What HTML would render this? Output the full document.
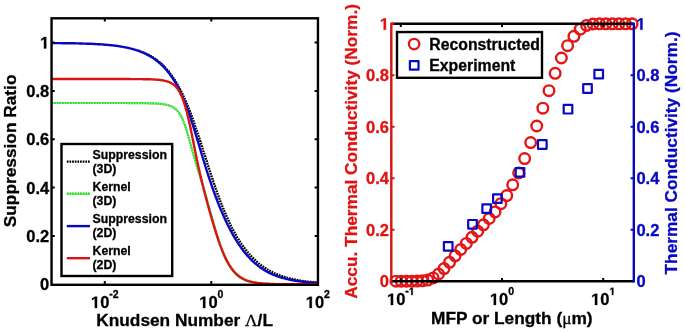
<!DOCTYPE html>
<html><head><meta charset="utf-8"><title>Suppression ratio and thermal conductivity plots</title><style>
html,body{margin:0;padding:0;background:#fff;width:685px;height:332px;overflow:hidden;}
svg{display:block;}
svg{will-change:transform;}
text{font-family:"Liberation Sans",sans-serif;font-weight:bold;fill:currentColor;stroke:currentColor;stroke-width:0.3px;}
.r{color:#e01313;}
.b{color:#0808c2;}
.g1{stroke:currentColor;stroke-width:0.3px;}
.tk{font-size:16.5px;}
.sup{font-size:10.5px;}
.lab{font-size:17.3px;}
.lg{font-size:12.3px;}
.lg2{font-size:15.8px;}
.sym{font-family:"Liberation Serif",serif;font-weight:normal;}
</style></head><body>
<svg width="685" height="332" viewBox="0 0 685 332">
<rect width="685" height="332" fill="#fff"/>
<defs><clipPath id="cl"><rect x="51.55" y="18.3" width="266.25" height="266.00"/></clipPath></defs>
<g clip-path="url(#cl)" fill="none">
<defs><clipPath id="cl2"><rect x="138" y="0" width="200" height="300"/></clipPath></defs>
<path clip-path="url(#cl2)" d="M48.5,43.0 L49.3,43.1 L50.1,43.1 L50.9,43.1 L51.7,43.1 L52.5,43.1 L53.3,43.1 L54.1,43.1 L54.9,43.1 L55.7,43.1 L56.5,43.1 L57.3,43.1 L58.1,43.1 L58.9,43.1 L59.7,43.2 L60.5,43.2 L61.3,43.2 L62.1,43.2 L62.9,43.2 L63.7,43.2 L64.5,43.2 L65.3,43.2 L66.1,43.2 L66.9,43.2 L67.7,43.3 L68.5,43.3 L69.3,43.3 L70.1,43.3 L70.9,43.3 L71.7,43.3 L72.5,43.3 L73.3,43.4 L74.1,43.4 L74.9,43.4 L75.7,43.4 L76.5,43.4 L77.3,43.5 L78.1,43.5 L78.9,43.5 L79.7,43.5 L80.5,43.5 L81.3,43.6 L82.1,43.6 L82.9,43.6 L83.7,43.6 L84.5,43.7 L85.3,43.7 L86.1,43.7 L86.9,43.7 L87.7,43.8 L88.5,43.8 L89.3,43.8 L90.1,43.9 L90.9,43.9 L91.7,43.9 L92.5,44.0 L93.3,44.0 L94.1,44.1 L94.9,44.1 L95.7,44.1 L96.5,44.2 L97.3,44.2 L98.1,44.3 L98.9,44.3 L99.7,44.4 L100.5,44.4 L101.3,44.5 L102.1,44.5 L102.9,44.6 L103.7,44.6 L104.5,44.7 L105.3,44.8 L106.0,44.8 L106.8,44.9 L107.6,45.0 L108.4,45.0 L109.2,45.1 L110.0,45.2 L110.8,45.3 L111.6,45.3 L112.4,45.4 L113.2,45.5 L114.0,45.6 L114.8,45.7 L115.6,45.8 L116.4,45.9 L117.2,46.0 L118.0,46.1 L118.8,46.2 L119.6,46.3 L120.4,46.5 L121.1,46.6 L121.9,46.7 L122.7,46.8 L123.5,47.0 L124.3,47.1 L125.1,47.3 L125.9,47.4 L126.7,47.6 L127.4,47.7 L128.2,47.9 L129.0,48.1 L129.8,48.2 L130.6,48.4 L131.3,48.6 L132.1,48.8 L132.9,49.0 L133.7,49.2 L134.4,49.4 L135.2,49.6 L136.0,49.9 L136.7,50.1 L137.5,50.3 L138.3,50.6 L139.0,50.8 L139.8,51.1 L140.5,51.4 L141.3,51.7 L142.0,51.9 L142.8,52.2 L143.5,52.5 L144.2,52.9 L145.0,53.2 L145.7,53.5 L146.4,53.8 L147.2,54.2 L147.9,54.5 L148.6,54.9 L149.3,55.3 L150.0,55.7 L150.7,56.1 L151.4,56.5 L152.1,56.9 L152.8,57.3 L153.4,57.7 L154.1,58.1 L154.8,58.6 L155.4,59.0 L156.1,59.5 L156.7,60.0 L157.4,60.5 L158.0,60.9 L158.6,61.4 L159.2,61.9 L159.9,62.5 L160.5,63.0 L161.1,63.5 L161.7,64.0 L162.2,64.6 L162.8,65.1 L163.4,65.7 L164.0,66.3 L164.5,66.8 L165.1,67.4 L165.6,68.0 L166.2,68.6 L166.7,69.2 L167.2,69.8 L167.7,70.4 L168.3,71.0 L168.8,71.6 L169.3,72.3 L169.8,72.9 L170.2,73.5 L170.7,74.2 L171.2,74.8 L171.7,75.4 L172.1,76.1 L172.6,76.8 L173.0,77.4 L173.5,78.1 L173.9,78.7 L174.4,79.4 L174.8,80.1 L175.2,80.8 L175.6,81.4 L176.1,82.1 L176.5,82.8 L176.9,83.5 L177.3,84.2 L177.7,84.9 L178.1,85.6 L178.5,86.3 L178.8,87.0 L179.2,87.7 L179.6,88.4 L180.0,89.1 L180.3,89.8 L180.7,90.5 L181.1,91.2 L181.4,92.0 L181.8,92.7 L182.1,93.4 L182.5,94.1 L182.8,94.8 L183.2,95.6 L183.5,96.3 L183.8,97.0 L184.2,97.7 L184.5,98.5 L184.8,99.2 L185.2,99.9 L185.5,100.7 L185.8,101.4 L186.1,102.1 L186.4,102.9 L186.7,103.6 L187.0,104.3 L187.3,105.1 L187.7,105.8 L188.0,106.6 L188.3,107.3 L188.6,108.0 L188.8,108.8 L189.1,109.5 L189.4,110.3 L189.7,111.0 L190.0,111.8 L190.3,112.5 L190.6,113.3 L190.9,114.0 L191.1,114.8 L191.4,115.5 L191.7,116.3 L192.0,117.0 L192.3,117.8 L192.5,118.5 L192.8,119.3 L193.1,120.0 L193.3,120.8 L193.6,121.5 L193.9,122.3 L194.1,123.0 L194.4,123.8 L194.7,124.5 L194.9,125.3 L195.2,126.1 L195.5,126.8 L195.7,127.6 L196.0,128.3 L196.2,129.1 L196.5,129.8 L196.8,130.6 L197.0,131.4 L197.3,132.1 L197.5,132.9 L197.8,133.6 L198.0,134.4 L198.3,135.2 L198.5,135.9 L198.8,136.7 L199.0,137.4 L199.3,138.2 L199.5,139.0 L199.8,139.7 L200.0,140.5 L200.3,141.2 L200.5,142.0 L200.8,142.8 L201.0,143.5 L201.2,144.3 L201.5,145.0 L201.7,145.8 L202.0,146.6 L202.2,147.3 L202.5,148.1 L202.7,148.8 L203.0,149.6 L203.2,150.4 L203.4,151.1 L203.7,151.9 L203.9,152.7 L204.2,153.4 L204.4,154.2 L204.7,154.9 L204.9,155.7 L205.2,156.5 L205.4,157.2 L205.6,158.0 L205.9,158.8 L206.1,159.5 L206.4,160.3 L206.6,161.0 L206.9,161.8 L207.1,162.6 L207.3,163.3 L207.6,164.1 L207.8,164.9 L208.1,165.6 L208.3,166.4 L208.6,167.1 L208.8,167.9 L209.1,168.7 L209.3,169.4 L209.6,170.2 L209.8,170.9 L210.0,171.7 L210.3,172.5 L210.5,173.2 L210.8,174.0 L211.0,174.7 L211.3,175.5 L211.5,176.3 L211.8,177.0 L212.1,177.8 L212.3,178.5 L212.6,179.3 L212.8,180.1 L213.1,180.8 L213.3,181.6 L213.6,182.3 L213.8,183.1 L214.1,183.8 L214.4,184.6 L214.6,185.4 L214.9,186.1 L215.1,186.9 L215.4,187.6 L215.7,188.4 L215.9,189.1 L216.2,189.9 L216.5,190.6 L216.7,191.4 L217.0,192.2 L217.3,192.9 L217.5,193.7 L217.8,194.4 L218.1,195.2 L218.4,195.9 L218.6,196.7 L218.9,197.4 L219.2,198.2 L219.5,198.9 L219.8,199.7 L220.0,200.4 L220.3,201.2 L220.6,201.9 L220.9,202.7 L221.2,203.4 L221.5,204.1 L221.8,204.9 L222.1,205.6 L222.4,206.4 L222.7,207.1 L223.0,207.9 L223.3,208.6 L223.6,209.3 L223.9,210.1 L224.2,210.8 L224.5,211.6 L224.8,212.3 L225.1,213.0 L225.4,213.8 L225.7,214.5 L226.1,215.2 L226.4,216.0 L226.7,216.7 L227.0,217.4 L227.4,218.2 L227.7,218.9 L228.0,219.6 L228.3,220.3 L228.7,221.1 L229.0,221.8 L229.4,222.5 L229.7,223.2 L230.1,224.0 L230.4,224.7 L230.8,225.4 L231.1,226.1 L231.5,226.8 L231.8,227.5 L232.2,228.3 L232.6,229.0 L232.9,229.7 L233.3,230.4 L233.7,231.1 L234.1,231.8 L234.5,232.5 L234.8,233.2 L235.2,233.9 L235.6,234.6 L236.0,235.3 L236.4,236.0 L236.8,236.7 L237.2,237.4 L237.6,238.0 L238.1,238.7 L238.5,239.4 L238.9,240.1 L239.3,240.8 L239.8,241.4 L240.2,242.1 L240.6,242.8 L241.1,243.4 L241.5,244.1 L242.0,244.8 L242.4,245.4 L242.9,246.1 L243.4,246.7 L243.8,247.4 L244.3,248.0 L244.8,248.6 L245.3,249.3 L245.8,249.9 L246.3,250.5 L246.8,251.2 L247.3,251.8 L247.8,252.4 L248.3,253.0 L248.8,253.6 L249.3,254.2 L249.9,254.8 L250.4,255.4 L251.0,256.0 L251.5,256.6 L252.1,257.2 L252.6,257.7 L253.2,258.3 L253.7,258.9 L254.3,259.4 L254.9,260.0 L255.5,260.5 L256.1,261.1 L256.7,261.6 L257.3,262.1 L257.9,262.6 L258.5,263.2 L259.1,263.7 L259.7,264.2 L260.4,264.7 L261.0,265.1 L261.6,265.6 L262.3,266.1 L262.9,266.6 L263.6,267.0 L264.3,267.5 L264.9,267.9 L265.6,268.3 L266.3,268.8 L267.0,269.2 L267.6,269.6 L268.3,270.0 L269.0,270.4 L269.7,270.8 L270.4,271.2 L271.1,271.5 L271.9,271.9 L272.6,272.3 L273.3,272.6 L274.0,273.0 L274.7,273.3 L275.5,273.6 L276.2,273.9 L276.9,274.2 L277.7,274.5 L278.4,274.8 L279.2,275.1 L279.9,275.4 L280.7,275.7 L281.4,276.0 L282.2,276.2 L282.9,276.5 L283.7,276.7 L284.5,277.0 L285.2,277.2 L286.0,277.4 L286.8,277.6 L287.5,277.9 L288.3,278.1 L289.1,278.3 L289.9,278.5 L290.6,278.7 L291.4,278.8 L292.2,279.0 L293.0,279.2 L293.8,279.4 L294.5,279.5 L295.3,279.7 L296.1,279.8 L296.9,280.0 L297.7,280.1 L298.5,280.3 L299.3,280.4 L300.0,280.6 L300.8,280.7 L301.6,280.8 L302.4,280.9 L303.2,281.1 L304.0,281.2 L304.8,281.3 L305.6,281.4 L306.4,281.5 L307.2,281.6 L308.0,281.7 L308.8,281.8 L309.6,281.9 L310.3,282.0 L311.1,282.0 L311.9,282.1 L312.7,282.2 L313.5,282.3 L314.3,282.4 L315.1,282.4 L315.9,282.5 L316.7,282.6 L317.5,282.6 L318.3,282.7 L319.1,282.8 L319.9,282.8 L320.1,282.8" stroke="#000" stroke-width="2.4" stroke-dasharray="1.75 0.9"/>
<path d="M48.9,103.0 L49.7,103.0 L50.5,103.0 L51.3,103.0 L52.1,103.0 L52.9,103.0 L53.7,103.0 L54.5,103.0 L55.3,103.0 L56.1,103.0 L56.9,103.0 L57.7,103.0 L58.5,103.0 L59.3,103.0 L60.1,103.0 L60.9,103.0 L61.7,103.0 L62.5,103.0 L63.3,103.0 L64.1,103.0 L64.9,103.0 L65.7,103.0 L66.5,103.0 L67.3,103.0 L68.1,103.0 L68.9,103.0 L69.7,103.0 L70.5,103.0 L71.3,103.0 L72.1,103.0 L72.9,103.0 L73.7,103.0 L74.5,103.0 L75.3,103.0 L76.1,103.0 L76.9,103.0 L77.7,103.0 L78.5,103.0 L79.3,103.0 L80.1,103.0 L80.9,103.0 L81.7,103.0 L82.5,103.0 L83.3,103.0 L84.1,103.0 L84.9,103.0 L85.7,103.0 L86.5,103.0 L87.3,103.0 L88.1,103.0 L88.9,103.0 L89.7,103.0 L90.5,103.0 L91.3,103.0 L92.1,103.0 L92.9,103.0 L93.7,103.0 L94.5,103.0 L95.3,103.0 L96.1,103.0 L96.9,103.0 L97.7,103.0 L98.5,103.0 L99.3,103.0 L100.1,103.0 L100.9,103.0 L101.7,103.0 L102.5,103.0 L103.3,103.0 L104.1,103.0 L104.9,103.0 L105.7,103.0 L106.5,103.0 L107.3,103.0 L108.1,103.0 L108.9,103.0 L109.7,103.0 L110.5,103.0 L111.3,103.0 L112.1,103.0 L112.9,103.0 L113.7,103.0 L114.5,103.0 L115.3,103.0 L116.1,103.0 L116.9,103.0 L117.7,103.0 L118.5,103.0 L119.3,103.0 L120.1,103.0 L120.9,103.0 L121.7,103.0 L122.5,103.0 L123.3,103.0 L124.1,103.0 L124.9,103.0 L125.7,103.0 L126.5,103.0 L127.3,103.1 L128.1,103.1 L128.9,103.1 L129.7,103.1 L130.5,103.1 L131.3,103.1 L132.1,103.1 L132.9,103.1 L133.7,103.1 L134.5,103.1 L135.3,103.1 L136.1,103.1 L136.9,103.1 L137.7,103.1 L138.5,103.1 L139.3,103.1 L140.1,103.1 L140.9,103.1 L141.7,103.1 L142.5,103.2 L143.3,103.2 L144.1,103.2 L144.9,103.2 L145.7,103.2 L146.5,103.2 L147.3,103.2 L148.1,103.3 L148.9,103.3 L149.7,103.3 L150.5,103.3 L151.3,103.3 L152.1,103.4 L152.9,103.4 L153.7,103.4 L154.5,103.5 L155.3,103.5 L156.1,103.6 L156.9,103.6 L157.7,103.7 L158.5,103.7 L159.3,103.8 L160.1,103.9 L160.9,103.9 L161.7,104.0 L162.5,104.1 L163.2,104.2 L164.0,104.4 L164.8,104.5 L165.6,104.6 L166.4,104.8 L167.2,105.0 L168.0,105.2 L168.7,105.4 L169.5,105.6 L170.2,105.9 L171.0,106.2 L171.7,106.5 L172.4,106.9 L173.1,107.2 L173.8,107.7 L174.5,108.1 L175.1,108.6 L175.7,109.1 L176.3,109.6 L176.9,110.2 L177.4,110.8 L178.0,111.4 L178.5,112.0 L178.9,112.7 L179.4,113.3 L179.8,114.0 L180.2,114.7 L180.6,115.4 L181.0,116.1 L181.4,116.8 L181.8,117.5 L182.1,118.2 L182.4,118.9 L182.8,119.7 L183.1,120.4 L183.4,121.2 L183.7,121.9 L183.9,122.6 L184.2,123.4 L184.5,124.1 L184.8,124.9 L185.0,125.7 L185.3,126.4 L185.5,127.2 L185.8,127.9 L186.0,128.7 L186.3,129.5 L186.5,130.2 L186.7,131.0 L187.0,131.8 L187.2,132.5 L187.4,133.3 L187.7,134.1 L187.9,134.8 L188.1,135.6 L188.3,136.4 L188.5,137.1 L188.8,137.9 L189.0,138.7 L189.2,139.4 L189.4,140.2 L189.6,141.0 L189.8,141.8 L190.1,142.5 L190.3,143.3 L190.5,144.1 L190.7,144.8 L190.9,145.6 L191.1,146.4 L191.3,147.1 L191.5,147.9 L191.8,148.7 L192.0,149.5 L192.2,150.2 L192.4,151.0 L192.6,151.8 L192.8,152.5 L193.1,153.3 L193.3,154.1 L193.5,154.8 L193.7,155.6 L193.9,156.4 L194.2,157.2 L194.4,157.9 L194.6,158.7 L194.8,159.5 L195.1,160.2 L195.3,161.0 L195.5,161.8 L195.8,162.5 L196.0,163.3 L196.2,164.1 L196.5,164.8 L196.7,165.6 L196.9,166.4 L197.2,167.1 L197.4,167.9 L197.6,168.6 L197.9,169.4 L198.1,170.2 L198.3,170.9 L198.6,171.7 L198.8,172.5 L199.0,173.2 L199.3,174.0 L199.5,174.8 L199.8,175.5 L200.0,176.3 L200.2,177.1 L200.5,177.8 L200.7,178.6 L200.9,179.3 L201.2,180.1 L201.4,180.9 L201.6,181.6 L201.9,182.4 L202.1,183.2 L202.3,183.9 L202.6,184.7 L202.8,185.5 L203.0,186.2 L203.2,187.0 L203.5,187.8 L203.7,188.5 L203.9,189.3 L204.2,190.1 L204.4,190.8 L204.6,191.6 L204.8,192.4 L205.0,193.1 L205.3,193.9 L205.5,194.7 L205.7,195.5 L205.9,196.2 L206.2,197.0 L206.4,197.8 L206.6,198.5 L206.8,199.3 L207.0,200.1 L207.2,200.8 L207.5,201.6 L207.7,202.4 L207.9,203.1 L208.1,203.9 L208.3,204.7 L208.5,205.5 L208.8,206.2 L209.0,207.0 L209.2,207.8 L209.4,208.5 L209.6,209.3 L209.8,210.1 L210.0,210.9 L210.3,211.6 L210.5,212.4 L210.7,213.2 L210.9,213.9 L211.1,214.7 L211.3,215.5 L211.5,216.3 L211.8,217.0 L212.0,217.8 L212.2,218.6 L212.4,219.3 L212.6,220.1 L212.8,220.9 L213.0,221.6 L213.3,222.4 L213.5,223.2 L213.7,224.0 L213.9,224.7 L214.1,225.5 L214.4,226.3 L214.6,227.0 L214.8,227.8 L215.0,228.6 L215.3,229.3 L215.5,230.1 L215.7,230.9 L215.9,231.6 L216.2,232.4 L216.4,233.2 L216.6,233.9 L216.9,234.7 L217.1,235.5 L217.3,236.2 L217.6,237.0 L217.8,237.8 L218.1,238.5 L218.3,239.3 L218.6,240.0 L218.8,240.8 L219.0,241.6 L219.3,242.3 L219.6,243.1 L219.8,243.8 L220.1,244.6 L220.3,245.3 L220.6,246.1 L220.9,246.9 L221.1,247.6 L221.4,248.4 L221.7,249.1 L222.0,249.9 L222.3,250.6 L222.5,251.3 L222.8,252.1 L223.1,252.8 L223.4,253.6 L223.7,254.3 L224.1,255.1 L224.4,255.8 L224.7,256.5 L225.0,257.3 L225.4,258.0 L225.7,258.7 L226.0,259.4 L226.4,260.1 L226.7,260.9 L227.1,261.6 L227.5,262.3 L227.9,263.0 L228.2,263.7 L228.6,264.4 L229.0,265.1 L229.4,265.8 L229.9,266.4 L230.3,267.1 L230.7,267.8 L231.2,268.4 L231.7,269.1 L232.1,269.7 L232.6,270.4 L233.1,271.0 L233.6,271.6 L234.2,272.2 L234.7,272.8 L235.3,273.4 L235.8,274.0 L236.4,274.5 L237.0,275.0 L237.6,275.6 L238.2,276.1 L238.9,276.5 L239.5,277.0 L240.2,277.5 L240.8,277.9 L241.5,278.3 L242.2,278.7 L242.9,279.1 L243.6,279.4 L244.4,279.8 L245.1,280.1 L245.8,280.4 L246.6,280.7 L247.4,280.9 L248.1,281.2 L248.9,281.4 L249.6,281.6 L250.4,281.8 L251.2,282.0 L252.0,282.2 L252.8,282.3 L253.6,282.5 L254.3,282.6 L255.1,282.8 L255.9,282.9 L256.7,283.0 L257.5,283.1 L258.3,283.2 L259.1,283.3 L259.9,283.3 L260.7,283.4 L261.5,283.5 L262.3,283.5 L263.1,283.6 L263.9,283.7 L264.7,283.7 L265.5,283.8 L266.3,283.8 L267.1,283.8 L267.9,283.9 L268.7,283.9 L269.5,283.9 L270.3,284.0 L271.1,284.0 L271.9,284.0 L272.7,284.0 L273.5,284.1 L274.3,284.1 L275.1,284.1 L275.9,284.1 L276.7,284.1 L277.5,284.1 L278.3,284.2 L279.1,284.2 L279.9,284.2 L280.7,284.2 L281.5,284.2 L282.3,284.2 L283.1,284.2 L283.9,284.2 L284.7,284.2 L285.5,284.2 L286.3,284.2 L287.1,284.2 L287.9,284.2 L288.7,284.2 L289.5,284.3 L290.3,284.3 L291.1,284.3 L291.9,284.3 L292.7,284.3 L293.5,284.3 L294.3,284.3 L295.1,284.3 L295.9,284.3 L296.7,284.3 L297.5,284.3 L298.3,284.3 L299.1,284.3 L299.9,284.3 L300.7,284.3 L301.5,284.3 L302.3,284.3 L303.1,284.3 L303.9,284.3 L304.7,284.3 L305.5,284.3 L306.3,284.3 L307.1,284.3 L307.9,284.3 L308.7,284.3 L309.5,284.3 L310.3,284.3 L311.1,284.3 L311.9,284.3 L312.7,284.3 L313.5,284.3 L314.3,284.3 L315.1,284.3 L315.9,284.3 L316.7,284.3 L317.5,284.3 L318.3,284.3 L319.1,284.3 L319.9,284.3 L320.5,284.3" stroke="#90f590" stroke-width="2.2"/>
<path d="M48.9,103.0 L49.7,103.0 L50.5,103.0 L51.3,103.0 L52.1,103.0 L52.9,103.0 L53.7,103.0 L54.5,103.0 L55.3,103.0 L56.1,103.0 L56.9,103.0 L57.7,103.0 L58.5,103.0 L59.3,103.0 L60.1,103.0 L60.9,103.0 L61.7,103.0 L62.5,103.0 L63.3,103.0 L64.1,103.0 L64.9,103.0 L65.7,103.0 L66.5,103.0 L67.3,103.0 L68.1,103.0 L68.9,103.0 L69.7,103.0 L70.5,103.0 L71.3,103.0 L72.1,103.0 L72.9,103.0 L73.7,103.0 L74.5,103.0 L75.3,103.0 L76.1,103.0 L76.9,103.0 L77.7,103.0 L78.5,103.0 L79.3,103.0 L80.1,103.0 L80.9,103.0 L81.7,103.0 L82.5,103.0 L83.3,103.0 L84.1,103.0 L84.9,103.0 L85.7,103.0 L86.5,103.0 L87.3,103.0 L88.1,103.0 L88.9,103.0 L89.7,103.0 L90.5,103.0 L91.3,103.0 L92.1,103.0 L92.9,103.0 L93.7,103.0 L94.5,103.0 L95.3,103.0 L96.1,103.0 L96.9,103.0 L97.7,103.0 L98.5,103.0 L99.3,103.0 L100.1,103.0 L100.9,103.0 L101.7,103.0 L102.5,103.0 L103.3,103.0 L104.1,103.0 L104.9,103.0 L105.7,103.0 L106.5,103.0 L107.3,103.0 L108.1,103.0 L108.9,103.0 L109.7,103.0 L110.5,103.0 L111.3,103.0 L112.1,103.0 L112.9,103.0 L113.7,103.0 L114.5,103.0 L115.3,103.0 L116.1,103.0 L116.9,103.0 L117.7,103.0 L118.5,103.0 L119.3,103.0 L120.1,103.0 L120.9,103.0 L121.7,103.0 L122.5,103.0 L123.3,103.0 L124.1,103.0 L124.9,103.0 L125.7,103.0 L126.5,103.0 L127.3,103.1 L128.1,103.1 L128.9,103.1 L129.7,103.1 L130.5,103.1 L131.3,103.1 L132.1,103.1 L132.9,103.1 L133.7,103.1 L134.5,103.1 L135.3,103.1 L136.1,103.1 L136.9,103.1 L137.7,103.1 L138.5,103.1 L139.3,103.1 L140.1,103.1 L140.9,103.1 L141.7,103.1 L142.5,103.2 L143.3,103.2 L144.1,103.2 L144.9,103.2 L145.7,103.2 L146.5,103.2 L147.3,103.2 L148.1,103.3 L148.9,103.3 L149.7,103.3 L150.5,103.3 L151.3,103.3 L152.1,103.4 L152.9,103.4 L153.7,103.4 L154.5,103.5 L155.3,103.5 L156.1,103.6 L156.9,103.6 L157.7,103.7 L158.5,103.7 L159.3,103.8 L160.1,103.9 L160.9,103.9 L161.7,104.0 L162.5,104.1 L163.2,104.2 L164.0,104.4 L164.8,104.5 L165.6,104.6 L166.4,104.8 L167.2,105.0 L168.0,105.2 L168.7,105.4 L169.5,105.6 L170.2,105.9 L171.0,106.2 L171.7,106.5 L172.4,106.9 L173.1,107.2 L173.8,107.7 L174.5,108.1 L175.1,108.6 L175.7,109.1 L176.3,109.6 L176.9,110.2 L177.4,110.8 L178.0,111.4 L178.5,112.0 L178.9,112.7 L179.4,113.3 L179.8,114.0 L180.2,114.7 L180.6,115.4 L181.0,116.1 L181.4,116.8 L181.8,117.5 L182.1,118.2 L182.4,118.9 L182.8,119.7 L183.1,120.4 L183.4,121.2 L183.7,121.9 L183.9,122.6 L184.2,123.4 L184.5,124.1 L184.8,124.9 L185.0,125.7 L185.3,126.4 L185.5,127.2 L185.8,127.9 L186.0,128.7 L186.3,129.5 L186.5,130.2 L186.7,131.0 L187.0,131.8 L187.2,132.5 L187.4,133.3 L187.7,134.1 L187.9,134.8 L188.1,135.6 L188.3,136.4 L188.5,137.1 L188.8,137.9 L189.0,138.7 L189.2,139.4 L189.4,140.2 L189.6,141.0 L189.8,141.8 L190.1,142.5 L190.3,143.3 L190.5,144.1 L190.7,144.8 L190.9,145.6 L191.1,146.4 L191.3,147.1 L191.5,147.9 L191.8,148.7 L192.0,149.5 L192.2,150.2 L192.4,151.0 L192.6,151.8 L192.8,152.5 L193.1,153.3 L193.3,154.1 L193.5,154.8 L193.7,155.6 L193.9,156.4 L194.2,157.2 L194.4,157.9 L194.6,158.7 L194.8,159.5 L195.1,160.2 L195.3,161.0 L195.5,161.8 L195.8,162.5 L196.0,163.3 L196.2,164.1 L196.5,164.8 L196.7,165.6 L196.9,166.4 L197.2,167.1 L197.4,167.9 L197.6,168.6 L197.9,169.4 L198.1,170.2 L198.3,170.9 L198.6,171.7 L198.8,172.5 L199.0,173.2 L199.3,174.0 L199.5,174.8 L199.8,175.5 L200.0,176.3 L200.2,177.1 L200.5,177.8 L200.7,178.6 L200.9,179.3 L201.2,180.1 L201.4,180.9 L201.6,181.6 L201.9,182.4 L202.1,183.2 L202.3,183.9 L202.6,184.7 L202.8,185.5 L203.0,186.2 L203.2,187.0 L203.5,187.8 L203.7,188.5 L203.9,189.3 L204.2,190.1 L204.4,190.8 L204.6,191.6 L204.8,192.4 L205.0,193.1 L205.3,193.9 L205.5,194.7 L205.7,195.5 L205.9,196.2 L206.2,197.0 L206.4,197.8 L206.6,198.5 L206.8,199.3 L207.0,200.1 L207.2,200.8 L207.5,201.6 L207.7,202.4 L207.9,203.1 L208.1,203.9 L208.3,204.7 L208.5,205.5 L208.8,206.2 L209.0,207.0 L209.2,207.8 L209.4,208.5 L209.6,209.3 L209.8,210.1 L210.0,210.9 L210.3,211.6 L210.5,212.4 L210.7,213.2 L210.9,213.9 L211.1,214.7 L211.3,215.5 L211.5,216.3 L211.8,217.0 L212.0,217.8 L212.2,218.6 L212.4,219.3 L212.6,220.1 L212.8,220.9 L213.0,221.6 L213.3,222.4 L213.5,223.2 L213.7,224.0 L213.9,224.7 L214.1,225.5 L214.4,226.3 L214.6,227.0 L214.8,227.8 L215.0,228.6 L215.3,229.3 L215.5,230.1 L215.7,230.9 L215.9,231.6 L216.2,232.4 L216.4,233.2 L216.6,233.9 L216.9,234.7 L217.1,235.5 L217.3,236.2 L217.6,237.0 L217.8,237.8 L218.1,238.5 L218.3,239.3 L218.6,240.0 L218.8,240.8 L219.0,241.6 L219.3,242.3 L219.6,243.1 L219.8,243.8 L220.1,244.6 L220.3,245.3 L220.6,246.1 L220.9,246.9 L221.1,247.6 L221.4,248.4 L221.7,249.1 L222.0,249.9 L222.3,250.6 L222.5,251.3 L222.8,252.1 L223.1,252.8 L223.4,253.6 L223.7,254.3 L224.1,255.1 L224.4,255.8 L224.7,256.5 L225.0,257.3 L225.4,258.0 L225.7,258.7 L226.0,259.4 L226.4,260.1 L226.7,260.9 L227.1,261.6 L227.5,262.3 L227.9,263.0 L228.2,263.7 L228.6,264.4 L229.0,265.1 L229.4,265.8 L229.9,266.4 L230.3,267.1 L230.7,267.8 L231.2,268.4 L231.7,269.1 L232.1,269.7 L232.6,270.4 L233.1,271.0 L233.6,271.6 L234.2,272.2 L234.7,272.8 L235.3,273.4 L235.8,274.0 L236.4,274.5 L237.0,275.0 L237.6,275.6 L238.2,276.1 L238.9,276.5 L239.5,277.0 L240.2,277.5 L240.8,277.9 L241.5,278.3 L242.2,278.7 L242.9,279.1 L243.6,279.4 L244.4,279.8 L245.1,280.1 L245.8,280.4 L246.6,280.7 L247.4,280.9 L248.1,281.2 L248.9,281.4 L249.6,281.6 L250.4,281.8 L251.2,282.0 L252.0,282.2 L252.8,282.3 L253.6,282.5 L254.3,282.6 L255.1,282.8 L255.9,282.9 L256.7,283.0 L257.5,283.1 L258.3,283.2 L259.1,283.3 L259.9,283.3 L260.7,283.4 L261.5,283.5 L262.3,283.5 L263.1,283.6 L263.9,283.7 L264.7,283.7 L265.5,283.8 L266.3,283.8 L267.1,283.8 L267.9,283.9 L268.7,283.9 L269.5,283.9 L270.3,284.0 L271.1,284.0 L271.9,284.0 L272.7,284.0 L273.5,284.1 L274.3,284.1 L275.1,284.1 L275.9,284.1 L276.7,284.1 L277.5,284.1 L278.3,284.2 L279.1,284.2 L279.9,284.2 L280.7,284.2 L281.5,284.2 L282.3,284.2 L283.1,284.2 L283.9,284.2 L284.7,284.2 L285.5,284.2 L286.3,284.2 L287.1,284.2 L287.9,284.2 L288.7,284.2 L289.5,284.3 L290.3,284.3 L291.1,284.3 L291.9,284.3 L292.7,284.3 L293.5,284.3 L294.3,284.3 L295.1,284.3 L295.9,284.3 L296.7,284.3 L297.5,284.3 L298.3,284.3 L299.1,284.3 L299.9,284.3 L300.7,284.3 L301.5,284.3 L302.3,284.3 L303.1,284.3 L303.9,284.3 L304.7,284.3 L305.5,284.3 L306.3,284.3 L307.1,284.3 L307.9,284.3 L308.7,284.3 L309.5,284.3 L310.3,284.3 L311.1,284.3 L311.9,284.3 L312.7,284.3 L313.5,284.3 L314.3,284.3 L315.1,284.3 L315.9,284.3 L316.7,284.3 L317.5,284.3 L318.3,284.3 L319.1,284.3 L319.9,284.3 L320.5,284.3" stroke="#36da36" stroke-width="2.2" stroke-dasharray="1.75 0.9"/>
<path d="M48.9,43.0 L49.7,43.0 L50.5,43.1 L51.3,43.1 L52.1,43.1 L52.9,43.1 L53.7,43.1 L54.5,43.1 L55.3,43.1 L56.1,43.1 L56.9,43.1 L57.7,43.1 L58.5,43.1 L59.3,43.1 L60.1,43.1 L60.9,43.1 L61.7,43.2 L62.5,43.2 L63.3,43.2 L64.1,43.2 L64.9,43.2 L65.7,43.2 L66.5,43.2 L67.3,43.2 L68.1,43.2 L68.9,43.2 L69.7,43.3 L70.5,43.3 L71.3,43.3 L72.1,43.3 L72.9,43.3 L73.7,43.3 L74.5,43.3 L75.3,43.4 L76.1,43.4 L76.9,43.4 L77.7,43.4 L78.5,43.4 L79.3,43.5 L80.1,43.5 L80.9,43.5 L81.7,43.5 L82.5,43.5 L83.3,43.6 L84.1,43.6 L84.9,43.6 L85.7,43.6 L86.5,43.7 L87.3,43.7 L88.1,43.7 L88.9,43.8 L89.7,43.8 L90.5,43.8 L91.3,43.8 L92.1,43.9 L92.9,43.9 L93.7,44.0 L94.5,44.0 L95.3,44.0 L96.1,44.1 L96.9,44.1 L97.7,44.2 L98.5,44.2 L99.3,44.3 L100.1,44.3 L100.9,44.4 L101.7,44.4 L102.5,44.5 L103.3,44.5 L104.1,44.6 L104.9,44.7 L105.7,44.7 L106.4,44.8 L107.2,44.9 L108.0,44.9 L108.8,45.0 L109.6,45.1 L110.4,45.2 L111.2,45.2 L112.0,45.3 L112.8,45.4 L113.6,45.5 L114.4,45.6 L115.2,45.7 L116.0,45.8 L116.8,45.9 L117.6,46.0 L118.4,46.1 L119.2,46.3 L120.0,46.4 L120.7,46.5 L121.5,46.6 L122.3,46.8 L123.1,46.9 L123.9,47.1 L124.7,47.2 L125.5,47.4 L126.2,47.5 L127.0,47.7 L127.8,47.9 L128.6,48.0 L129.4,48.2 L130.1,48.4 L130.9,48.6 L131.7,48.8 L132.5,49.0 L133.2,49.2 L134.0,49.5 L134.8,49.7 L135.5,49.9 L136.3,50.2 L137.1,50.4 L137.8,50.7 L138.6,50.9 L139.3,51.2 L140.1,51.5 L140.8,51.8 L141.6,52.1 L142.3,52.4 L143.0,52.7 L143.8,53.0 L144.5,53.3 L145.2,53.7 L145.9,54.0 L146.7,54.4 L147.4,54.8 L148.1,55.1 L148.8,55.5 L149.5,55.9 L150.2,56.3 L150.9,56.7 L151.5,57.1 L152.2,57.6 L152.9,58.0 L153.6,58.4 L154.2,58.9 L154.9,59.4 L155.5,59.8 L156.2,60.3 L156.8,60.8 L157.4,61.3 L158.0,61.8 L158.7,62.3 L159.3,62.8 L159.9,63.3 L160.5,63.9 L161.1,64.4 L161.6,65.0 L162.2,65.5 L162.8,66.1 L163.4,66.6 L163.9,67.2 L164.5,67.8 L165.0,68.4 L165.5,69.0 L166.1,69.6 L166.6,70.2 L167.1,70.8 L167.6,71.4 L168.1,72.0 L168.6,72.7 L169.1,73.3 L169.6,73.9 L170.1,74.6 L170.5,75.2 L171.0,75.9 L171.5,76.5 L171.9,77.2 L172.4,77.8 L172.8,78.5 L173.3,79.2 L173.7,79.8 L174.1,80.5 L174.5,81.2 L175.0,81.9 L175.4,82.6 L175.8,83.3 L176.2,84.0 L176.6,84.7 L176.9,85.4 L177.3,86.1 L177.7,86.8 L178.1,87.5 L178.5,88.2 L178.8,88.9 L179.2,89.6 L179.5,90.3 L179.9,91.0 L180.2,91.8 L180.6,92.5 L180.9,93.2 L181.3,93.9 L181.6,94.6 L181.9,95.4 L182.3,96.1 L182.6,96.8 L182.9,97.6 L183.2,98.3 L183.5,99.0 L183.8,99.8 L184.2,100.5 L184.5,101.3 L184.8,102.0 L185.1,102.7 L185.4,103.5 L185.6,104.2 L185.9,105.0 L186.2,105.7 L186.5,106.5 L186.8,107.2 L187.1,108.0 L187.3,108.7 L187.6,109.5 L187.9,110.2 L188.2,111.0 L188.4,111.7 L188.7,112.5 L189.0,113.2 L189.2,114.0 L189.5,114.7 L189.8,115.5 L190.0,116.3 L190.3,117.0 L190.5,117.8 L190.8,118.5 L191.0,119.3 L191.3,120.1 L191.5,120.8 L191.8,121.6 L192.0,122.3 L192.3,123.1 L192.5,123.9 L192.8,124.6 L193.0,125.4 L193.2,126.1 L193.5,126.9 L193.7,127.7 L194.0,128.4 L194.2,129.2 L194.4,130.0 L194.7,130.7 L194.9,131.5 L195.1,132.3 L195.4,133.0 L195.6,133.8 L195.8,134.6 L196.1,135.3 L196.3,136.1 L196.5,136.8 L196.8,137.6 L197.0,138.4 L197.2,139.1 L197.5,139.9 L197.7,140.7 L197.9,141.4 L198.2,142.2 L198.4,143.0 L198.6,143.7 L198.8,144.5 L199.1,145.3 L199.3,146.0 L199.5,146.8 L199.7,147.6 L200.0,148.3 L200.2,149.1 L200.4,149.9 L200.7,150.6 L200.9,151.4 L201.1,152.2 L201.3,152.9 L201.6,153.7 L201.8,154.5 L202.0,155.2 L202.3,156.0 L202.5,156.8 L202.7,157.5 L203.0,158.3 L203.2,159.1 L203.4,159.8 L203.7,160.6 L203.9,161.4 L204.1,162.1 L204.4,162.9 L204.6,163.7 L204.8,164.4 L205.1,165.2 L205.3,166.0 L205.5,166.7 L205.8,167.5 L206.0,168.3 L206.3,169.0 L206.5,169.8 L206.7,170.5 L207.0,171.3 L207.2,172.1 L207.5,172.8 L207.7,173.6 L208.0,174.4 L208.2,175.1 L208.4,175.9 L208.7,176.6 L208.9,177.4 L209.2,178.2 L209.4,178.9 L209.7,179.7 L210.0,180.4 L210.2,181.2 L210.5,181.9 L210.7,182.7 L211.0,183.5 L211.2,184.2 L211.5,185.0 L211.8,185.7 L212.0,186.5 L212.3,187.2 L212.5,188.0 L212.8,188.8 L213.1,189.5 L213.3,190.3 L213.6,191.0 L213.9,191.8 L214.2,192.5 L214.4,193.3 L214.7,194.0 L215.0,194.8 L215.3,195.5 L215.5,196.3 L215.8,197.0 L216.1,197.8 L216.4,198.5 L216.7,199.3 L217.0,200.0 L217.3,200.8 L217.5,201.5 L217.8,202.2 L218.1,203.0 L218.4,203.7 L218.7,204.5 L219.0,205.2 L219.3,206.0 L219.6,206.7 L219.9,207.4 L220.2,208.2 L220.5,208.9 L220.8,209.7 L221.2,210.4 L221.5,211.1 L221.8,211.9 L222.1,212.6 L222.4,213.3 L222.7,214.1 L223.1,214.8 L223.4,215.5 L223.7,216.3 L224.0,217.0 L224.4,217.7 L224.7,218.5 L225.0,219.2 L225.4,219.9 L225.7,220.6 L226.0,221.4 L226.4,222.1 L226.7,222.8 L227.1,223.5 L227.4,224.2 L227.8,225.0 L228.1,225.7 L228.5,226.4 L228.9,227.1 L229.2,227.8 L229.6,228.5 L230.0,229.2 L230.3,229.9 L230.7,230.7 L231.1,231.4 L231.5,232.1 L231.8,232.8 L232.2,233.5 L232.6,234.2 L233.0,234.9 L233.4,235.6 L233.8,236.2 L234.2,236.9 L234.6,237.6 L235.0,238.3 L235.4,239.0 L235.8,239.7 L236.3,240.4 L236.7,241.0 L237.1,241.7 L237.5,242.4 L238.0,243.1 L238.4,243.7 L238.9,244.4 L239.3,245.1 L239.8,245.7 L240.2,246.4 L240.7,247.0 L241.1,247.7 L241.6,248.3 L242.1,249.0 L242.6,249.6 L243.0,250.3 L243.5,250.9 L244.0,251.5 L244.5,252.2 L245.0,252.8 L245.5,253.4 L246.0,254.0 L246.5,254.6 L247.1,255.2 L247.6,255.9 L248.1,256.4 L248.7,257.0 L249.2,257.6 L249.7,258.2 L250.3,258.8 L250.9,259.4 L251.4,259.9 L252.0,260.5 L252.6,261.0 L253.2,261.6 L253.7,262.1 L254.3,262.7 L254.9,263.2 L255.5,263.7 L256.2,264.2 L256.8,264.7 L257.4,265.2 L258.0,265.7 L258.7,266.2 L259.3,266.7 L259.9,267.2 L260.6,267.6 L261.2,268.1 L261.9,268.6 L262.6,269.0 L263.3,269.4 L263.9,269.9 L264.6,270.3 L265.3,270.7 L266.0,271.1 L266.7,271.5 L267.4,271.9 L268.1,272.2 L268.8,272.6 L269.5,273.0 L270.2,273.3 L271.0,273.6 L271.7,274.0 L272.4,274.3 L273.2,274.6 L273.9,274.9 L274.6,275.2 L275.4,275.5 L276.1,275.8 L276.9,276.1 L277.6,276.4 L278.4,276.6 L279.2,276.9 L279.9,277.1 L280.7,277.4 L281.4,277.6 L282.2,277.8 L283.0,278.0 L283.7,278.2 L284.5,278.4 L285.3,278.6 L286.1,278.8 L286.9,279.0 L287.6,279.2 L288.4,279.4 L289.2,279.6 L290.0,279.7 L290.8,279.9 L291.5,280.0 L292.3,280.2 L293.1,280.3 L293.9,280.5 L294.7,280.6 L295.5,280.7 L296.3,280.9 L297.1,281.0 L297.9,281.1 L298.6,281.2 L299.4,281.3 L300.2,281.4 L301.0,281.5 L301.8,281.6 L302.6,281.7 L303.4,281.8 L304.2,281.9 L305.0,282.0 L305.8,282.1 L306.6,282.1 L307.4,282.2 L308.2,282.3 L309.0,282.4 L309.8,282.4 L310.6,282.5 L311.4,282.6 L312.2,282.6 L313.0,282.7 L313.8,282.7 L314.6,282.8 L315.4,282.9 L316.2,282.9 L317.0,283.0 L317.8,283.0 L318.6,283.0 L319.4,283.1 L320.2,283.1 L320.5,283.2" stroke="#0808c2" stroke-width="2.4"/>
<path d="M48.9,79.0 L49.7,79.0 L50.5,79.0 L51.3,79.0 L52.1,79.0 L52.9,79.0 L53.7,79.0 L54.5,79.0 L55.3,79.0 L56.1,79.0 L56.9,79.0 L57.7,79.0 L58.5,79.0 L59.3,79.0 L60.1,79.0 L60.9,79.0 L61.7,79.0 L62.5,79.0 L63.3,79.0 L64.1,79.0 L64.9,79.0 L65.7,79.0 L66.5,79.0 L67.3,79.0 L68.1,79.0 L68.9,79.0 L69.7,79.0 L70.5,79.0 L71.3,79.0 L72.1,79.0 L72.9,79.0 L73.7,79.0 L74.5,79.0 L75.3,79.0 L76.1,79.0 L76.9,79.0 L77.7,79.0 L78.5,79.0 L79.3,79.0 L80.1,79.0 L80.9,79.0 L81.7,79.0 L82.5,79.0 L83.3,79.0 L84.1,79.0 L84.9,79.0 L85.7,79.0 L86.5,79.0 L87.3,79.0 L88.1,79.0 L88.9,79.0 L89.7,79.0 L90.5,79.0 L91.3,79.0 L92.1,79.0 L92.9,79.0 L93.7,79.0 L94.5,79.0 L95.3,79.0 L96.1,79.0 L96.9,79.0 L97.7,79.0 L98.5,79.0 L99.3,79.0 L100.1,79.0 L100.9,79.0 L101.7,79.0 L102.5,79.0 L103.3,79.0 L104.1,79.0 L104.9,79.0 L105.7,79.0 L106.5,79.0 L107.3,79.0 L108.1,79.0 L108.9,79.0 L109.7,79.0 L110.5,79.0 L111.3,79.0 L112.1,79.0 L112.9,79.0 L113.7,79.0 L114.5,79.0 L115.3,79.0 L116.1,79.0 L116.9,79.0 L117.7,79.0 L118.5,79.0 L119.3,79.0 L120.1,79.0 L120.9,79.0 L121.7,79.0 L122.5,79.0 L123.3,79.0 L124.1,79.0 L124.9,79.0 L125.7,79.0 L126.5,79.0 L127.3,79.0 L128.1,79.0 L128.9,79.0 L129.7,79.0 L130.5,79.1 L131.3,79.1 L132.1,79.1 L132.9,79.1 L133.7,79.1 L134.5,79.1 L135.3,79.1 L136.1,79.1 L136.9,79.1 L137.7,79.1 L138.5,79.1 L139.3,79.1 L140.1,79.1 L140.9,79.1 L141.7,79.1 L142.5,79.1 L143.3,79.2 L144.1,79.2 L144.9,79.2 L145.7,79.2 L146.5,79.2 L147.3,79.2 L148.1,79.3 L148.9,79.3 L149.7,79.3 L150.5,79.3 L151.3,79.4 L152.1,79.4 L152.9,79.4 L153.7,79.5 L154.5,79.5 L155.3,79.6 L156.1,79.6 L156.9,79.7 L157.7,79.7 L158.5,79.8 L159.3,79.9 L160.1,80.0 L160.9,80.1 L161.6,80.2 L162.4,80.3 L163.2,80.5 L164.0,80.6 L164.8,80.8 L165.6,81.0 L166.3,81.2 L167.1,81.4 L167.9,81.6 L168.6,81.9 L169.4,82.2 L170.1,82.5 L170.8,82.9 L171.5,83.3 L172.2,83.7 L172.9,84.1 L173.5,84.6 L174.1,85.1 L174.7,85.7 L175.3,86.2 L175.9,86.8 L176.4,87.4 L176.9,88.0 L177.4,88.6 L177.9,89.3 L178.3,89.9 L178.8,90.6 L179.2,91.3 L179.6,92.0 L180.0,92.7 L180.3,93.4 L180.7,94.1 L181.0,94.8 L181.4,95.6 L181.7,96.3 L182.0,97.0 L182.3,97.8 L182.6,98.5 L182.9,99.3 L183.2,100.0 L183.4,100.8 L183.7,101.5 L183.9,102.3 L184.2,103.0 L184.4,103.8 L184.7,104.6 L184.9,105.3 L185.2,106.1 L185.4,106.8 L185.6,107.6 L185.8,108.4 L186.0,109.2 L186.2,109.9 L186.5,110.7 L186.7,111.5 L186.9,112.3 L187.1,113.0 L187.3,113.8 L187.4,114.6 L187.6,115.4 L187.8,116.1 L188.0,116.9 L188.2,117.7 L188.4,118.5 L188.6,119.2 L188.7,120.0 L188.9,120.8 L189.1,121.6 L189.3,122.4 L189.4,123.1 L189.6,123.9 L189.8,124.7 L190.0,125.5 L190.1,126.3 L190.3,127.1 L190.5,127.8 L190.6,128.6 L190.8,129.4 L190.9,130.2 L191.1,131.0 L191.3,131.8 L191.4,132.5 L191.6,133.3 L191.8,134.1 L191.9,134.9 L192.1,135.7 L192.2,136.5 L192.4,137.2 L192.5,138.0 L192.7,138.8 L192.9,139.6 L193.0,140.4 L193.2,141.2 L193.3,141.9 L193.5,142.7 L193.7,143.5 L193.8,144.3 L194.0,145.1 L194.1,145.9 L194.3,146.7 L194.4,147.4 L194.6,148.2 L194.8,149.0 L194.9,149.8 L195.1,150.6 L195.2,151.4 L195.4,152.1 L195.6,152.9 L195.7,153.7 L195.9,154.5 L196.0,155.3 L196.2,156.1 L196.4,156.8 L196.5,157.6 L196.7,158.4 L196.8,159.2 L197.0,160.0 L197.2,160.8 L197.3,161.5 L197.5,162.3 L197.7,163.1 L197.8,163.9 L198.0,164.7 L198.2,165.5 L198.4,166.2 L198.5,167.0 L198.7,167.8 L198.9,168.6 L199.0,169.4 L199.2,170.1 L199.4,170.9 L199.6,171.7 L199.7,172.5 L199.9,173.3 L200.1,174.0 L200.3,174.8 L200.5,175.6 L200.6,176.4 L200.8,177.2 L201.0,177.9 L201.2,178.7 L201.4,179.5 L201.6,180.3 L201.7,181.1 L201.9,181.8 L202.1,182.6 L202.3,183.4 L202.5,184.2 L202.7,184.9 L202.9,185.7 L203.1,186.5 L203.3,187.3 L203.5,188.0 L203.7,188.8 L203.9,189.6 L204.0,190.4 L204.2,191.1 L204.4,191.9 L204.6,192.7 L204.8,193.5 L205.0,194.2 L205.2,195.0 L205.5,195.8 L205.7,196.6 L205.9,197.3 L206.1,198.1 L206.3,198.9 L206.5,199.7 L206.7,200.4 L206.9,201.2 L207.1,202.0 L207.3,202.8 L207.5,203.5 L207.7,204.3 L207.9,205.1 L208.1,205.8 L208.4,206.6 L208.6,207.4 L208.8,208.2 L209.0,208.9 L209.2,209.7 L209.4,210.5 L209.6,211.2 L209.9,212.0 L210.1,212.8 L210.3,213.5 L210.5,214.3 L210.7,215.1 L210.9,215.9 L211.2,216.6 L211.4,217.4 L211.6,218.2 L211.8,218.9 L212.0,219.7 L212.3,220.5 L212.5,221.2 L212.7,222.0 L212.9,222.8 L213.2,223.5 L213.4,224.3 L213.6,225.1 L213.9,225.8 L214.1,226.6 L214.3,227.4 L214.6,228.1 L214.8,228.9 L215.0,229.7 L215.3,230.4 L215.5,231.2 L215.7,232.0 L216.0,232.7 L216.2,233.5 L216.5,234.2 L216.7,235.0 L217.0,235.8 L217.2,236.5 L217.5,237.3 L217.7,238.0 L218.0,238.8 L218.2,239.6 L218.5,240.3 L218.7,241.1 L219.0,241.8 L219.3,242.6 L219.5,243.3 L219.8,244.1 L220.1,244.8 L220.3,245.6 L220.6,246.3 L220.9,247.1 L221.2,247.8 L221.5,248.6 L221.8,249.3 L222.1,250.1 L222.4,250.8 L222.7,251.6 L223.0,252.3 L223.3,253.0 L223.6,253.8 L223.9,254.5 L224.2,255.2 L224.6,256.0 L224.9,256.7 L225.2,257.4 L225.6,258.1 L225.9,258.9 L226.3,259.6 L226.7,260.3 L227.0,261.0 L227.4,261.7 L227.8,262.4 L228.2,263.1 L228.6,263.8 L229.0,264.5 L229.4,265.2 L229.8,265.8 L230.3,266.5 L230.7,267.2 L231.2,267.8 L231.6,268.5 L232.1,269.1 L232.6,269.8 L233.1,270.4 L233.6,271.0 L234.1,271.6 L234.7,272.2 L235.2,272.8 L235.8,273.4 L236.3,273.9 L236.9,274.5 L237.5,275.0 L238.1,275.5 L238.8,276.0 L239.4,276.5 L240.1,276.9 L240.7,277.4 L241.4,277.8 L242.1,278.2 L242.8,278.6 L243.5,279.0 L244.2,279.3 L244.9,279.7 L245.7,280.0 L246.4,280.3 L247.2,280.6 L247.9,280.8 L248.7,281.1 L249.5,281.3 L250.2,281.5 L251.0,281.7 L251.8,281.9 L252.6,282.1 L253.3,282.2 L254.1,282.4 L254.9,282.5 L255.7,282.7 L256.5,282.8 L257.3,282.9 L258.1,283.0 L258.9,283.1 L259.7,283.2 L260.5,283.3 L261.3,283.4 L262.1,283.4 L262.8,283.5 L263.6,283.6 L264.4,283.6 L265.2,283.7 L266.0,283.7 L266.8,283.8 L267.6,283.8 L268.4,283.8 L269.2,283.9 L270.0,283.9 L270.8,283.9 L271.6,284.0 L272.4,284.0 L273.2,284.0 L274.0,284.0 L274.8,284.1 L275.6,284.1 L276.4,284.1 L277.2,284.1 L278.0,284.1 L278.8,284.1 L279.6,284.1 L280.4,284.2 L281.2,284.2 L282.0,284.2 L282.8,284.2 L283.6,284.2 L284.4,284.2 L285.2,284.2 L286.0,284.2 L286.8,284.2 L287.6,284.2 L288.4,284.2 L289.2,284.2 L290.0,284.2 L290.8,284.2 L291.6,284.3 L292.4,284.3 L293.2,284.3 L294.0,284.3 L294.8,284.3 L295.6,284.3 L296.4,284.3 L297.2,284.3 L298.0,284.3 L298.8,284.3 L299.6,284.3 L300.4,284.3 L301.2,284.3 L302.0,284.3 L302.8,284.3 L303.6,284.3 L304.4,284.3 L305.2,284.3 L306.0,284.3 L306.8,284.3 L307.6,284.3 L308.4,284.3 L309.2,284.3 L310.0,284.3 L310.8,284.3 L311.6,284.3 L312.4,284.3 L313.2,284.3 L314.0,284.3 L314.8,284.3 L315.6,284.3 L316.4,284.3 L317.2,284.3 L318.0,284.3 L318.8,284.3 L319.6,284.3 L320.4,284.3 L320.5,284.3" stroke="#d81414" stroke-width="2.4"/>
</g>
<rect x="51.55" y="18.3" width="266.40" height="266.50" fill="none" stroke="#000" stroke-width="2.4"/>
<path d="M51.55,235.9h3.2M317.8,235.9h-3.2M51.55,187.6h3.2M317.8,187.6h-3.2M51.55,139.2h3.2M317.8,139.2h-3.2M51.55,90.9h3.2M317.8,90.9h-3.2M51.55,42.5h3.2M317.8,42.5h-3.2M104.8,284.3v-3.2M104.8,18.3v3.2M211.3,284.3v-3.2M211.3,18.3v3.2" stroke="#000" stroke-width="2" fill="none"/>
<g class="tk">
<text x="49.3" y="290.2" text-anchor="end">0</text>
<text x="49.3" y="241.8" text-anchor="end">0.2</text>
<text x="49.3" y="193.5" text-anchor="end">0.4</text>
<text x="49.3" y="145.1" text-anchor="end">0.6</text>
<text x="49.3" y="96.8" text-anchor="end">0.8</text>
<path transform="translate(40.12,48.40) scale(0.00806,-0.00806)" d="M478 0V1170L140 959V1180L493 1409H759V0Z" fill="#000" stroke="#000" stroke-width="37.2"/>
<path transform="translate(90.96,308.00) scale(0.00806,-0.00806)" d="M478 0V1170L140 959V1180L493 1409H759V0Z" fill="#000" stroke="#000" stroke-width="37.2"/><text x="100.13" y="308">0</text><text class="sup" x="109.31" y="296.8">-</text><text class="sup" x="112.81" y="298.0">2</text>
<path transform="translate(199.20,308.00) scale(0.00806,-0.00806)" d="M478 0V1170L140 959V1180L493 1409H759V0Z" fill="#000" stroke="#000" stroke-width="37.2"/><text x="208.38" y="308">0</text><text class="sup" x="217.56" y="298.0">0</text>
<path transform="translate(305.70,308.00) scale(0.00806,-0.00806)" d="M478 0V1170L140 959V1180L493 1409H759V0Z" fill="#000" stroke="#000" stroke-width="37.2"/><text x="314.88" y="308">0</text><text class="sup" x="324.06" y="298.0">2</text>
</g>
<text class="lab" transform="translate(16.4,150.9) rotate(-90)" text-anchor="middle">Suppression Ratio</text>
<text class="lab" x="184.6" y="326" text-anchor="middle">Knudsen Number <tspan class="sym">&#923;</tspan>/L</text>
<rect x="61.5" y="144" width="110.7" height="132" fill="#fff" stroke="#000" stroke-width="2.4"/>
<g class="lg">
<path d="M66.8,161.6H90" stroke="#000" stroke-width="2.4" stroke-dasharray="1.75 0.9"/>
<text x="92.5" y="159.0">Suppression</text><text x="92.5" y="173.1">(3D)</text>
<path d="M66.8,193.7H90" stroke="#90f590" stroke-width="2.2"/>
<path d="M66.8,193.7H90" stroke="#36da36" stroke-width="2.4" stroke-dasharray="1.75 0.9"/>
<text x="92.5" y="190.9">Kernel</text><text x="92.5" y="205.0">(3D)</text>
<path d="M66.8,226.1H90" stroke="#0808c2" stroke-width="2.4"/>
<text x="92.5" y="223.1">Suppression</text><text x="92.5" y="237.2">(2D)</text>
<path d="M66.8,258.2H90" stroke="#d81414" stroke-width="2.4"/>
<text x="92.5" y="255.3">Kernel</text><text x="92.5" y="269.4">(2D)</text>
</g>
<g class="tk">
<path transform="translate(386.96,305.00) scale(0.00806,-0.00806)" d="M478 0V1170L140 959V1180L493 1409H759V0Z" fill="#000" stroke="#000" stroke-width="37.2"/><text x="396.13" y="305">0</text><text class="sup" x="405.31" y="293.8">-</text><path transform="translate(408.81,295.00) scale(0.00513,-0.00513)" d="M478 0V1170L140 959V1180L493 1409H759V0Z" fill="#000" stroke="#000" stroke-width="58.5"/>
<path transform="translate(489.90,305.00) scale(0.00806,-0.00806)" d="M478 0V1170L140 959V1180L493 1409H759V0Z" fill="#000" stroke="#000" stroke-width="37.2"/><text x="499.08" y="305">0</text><text class="sup" x="508.26" y="295.0">0</text>
<path transform="translate(591.10,305.00) scale(0.00806,-0.00806)" d="M478 0V1170L140 959V1180L493 1409H759V0Z" fill="#000" stroke="#000" stroke-width="37.2"/><text x="600.28" y="305">0</text><path transform="translate(609.46,295.00) scale(0.00513,-0.00513)" d="M478 0V1170L140 959V1180L493 1409H759V0Z" fill="#000" stroke="#000" stroke-width="58.5"/>
</g>
<g fill="none" stroke="#e21616" stroke-width="2.4">
<circle cx="396.06" cy="281.2" r="5.3"/>
<circle cx="401.25" cy="281.2" r="5.3"/>
<circle cx="406.47" cy="281.2" r="5.3"/>
<circle cx="411.73" cy="281.2" r="5.3"/>
<circle cx="417.03" cy="281.1" r="5.3"/>
<circle cx="422.37" cy="280.8" r="5.3"/>
<circle cx="427.74" cy="280.1" r="5.3"/>
<circle cx="433.15" cy="277.9" r="5.3"/>
<circle cx="438.59" cy="274.0" r="5.3"/>
<circle cx="444.07" cy="268.6" r="5.3"/>
<circle cx="449.59" cy="262.3" r="5.3"/>
<circle cx="455.14" cy="255.8" r="5.3"/>
<circle cx="460.73" cy="249.5" r="5.3"/>
<circle cx="466.36" cy="243.4" r="5.3"/>
<circle cx="472.02" cy="237.3" r="5.3"/>
<circle cx="477.73" cy="231.2" r="5.3"/>
<circle cx="483.46" cy="224.8" r="5.3"/>
<circle cx="489.24" cy="218.5" r="5.3"/>
<circle cx="495.05" cy="211.9" r="5.3"/>
<circle cx="500.89" cy="203.7" r="5.3"/>
<circle cx="506.78" cy="195.6" r="5.3"/>
<circle cx="512.70" cy="184.8" r="5.3"/>
<circle cx="518.65" cy="172.9" r="5.3"/>
<circle cx="524.65" cy="158.6" r="5.3"/>
<circle cx="530.68" cy="142.6" r="5.3"/>
<circle cx="536.74" cy="126.0" r="5.3"/>
<circle cx="542.84" cy="108.2" r="5.3"/>
<circle cx="548.98" cy="90.7" r="5.3"/>
<circle cx="555.16" cy="73.3" r="5.3"/>
<circle cx="561.37" cy="58.0" r="5.3"/>
<circle cx="567.62" cy="45.7" r="5.3"/>
<circle cx="573.91" cy="36.3" r="5.3"/>
<circle cx="580.23" cy="29.2" r="5.3"/>
<circle cx="586.59" cy="25.4" r="5.3"/>
<circle cx="592.98" cy="24.0" r="5.3"/>
<circle cx="599.42" cy="23.8" r="5.3"/>
<circle cx="605.88" cy="23.8" r="5.3"/>
<circle cx="612.39" cy="23.8" r="5.3"/>
<circle cx="618.93" cy="23.8" r="5.3"/>
<circle cx="625.51" cy="23.8" r="5.3"/>
<circle cx="632.12" cy="23.8" r="5.3"/>
</g>
<g fill="none" stroke="#0808c2" stroke-width="2.2" stroke-linejoin="round">
<rect x="443.9" y="242.1" width="8.6" height="8.6"/>
<rect x="468.2" y="220.0" width="8.6" height="8.6"/>
<rect x="482.4" y="204.3" width="8.6" height="8.6"/>
<rect x="493.1" y="194.3" width="8.6" height="8.6"/>
<rect x="515.7" y="168.1" width="8.6" height="8.6"/>
<rect x="538.0" y="140.2" width="8.6" height="8.6"/>
<rect x="563.7" y="104.9" width="8.6" height="8.6"/>
<rect x="583.2" y="84.2" width="8.6" height="8.6"/>
<rect x="594.4" y="69.8" width="8.6" height="8.6"/>
</g>
<path d="M391.3,23.8H633.8M391.3,281.3H633.8" stroke="#000" stroke-width="2.4"/>
<path d="M400.8,281.3v-3.2M400.8,23.8v3.2M502.0,281.3v-3.2M502.0,23.8v3.2M603.2,281.3v-3.2M603.2,23.8v3.2" stroke="#000" stroke-width="2" fill="none"/>
<path d="M391.3,22.7V282.40000000000003" stroke="#d81414" stroke-width="2.4"/>
<path d="M633.8,22.7V282.40000000000003" stroke="#0808c2" stroke-width="2.4"/>
<path d="M391.3,229.8h3.2M391.3,178.3h3.2M391.3,126.8h3.2M391.3,75.3h3.2M391.3,23.8h3.2" stroke="#d81414" stroke-width="2"/>
<path d="M633.8,229.8h-3.2M633.8,178.3h-3.2M633.8,126.8h-3.2M633.8,75.3h-3.2M633.8,23.8h-3.2" stroke="#0808c2" stroke-width="2"/>
<g class="tk">
<text class="r" x="389" y="287.2" text-anchor="end">0</text>
<text class="b" x="636.4" y="287.2">0</text>
<text class="r" x="389" y="235.7" text-anchor="end">0.2</text>
<text class="b" x="636.4" y="235.7">0.2</text>
<text class="r" x="389" y="184.2" text-anchor="end">0.4</text>
<text class="b" x="636.4" y="184.2">0.4</text>
<text class="r" x="389" y="132.7" text-anchor="end">0.6</text>
<text class="b" x="636.4" y="132.7">0.6</text>
<text class="r" x="389" y="81.2" text-anchor="end">0.8</text>
<text class="b" x="636.4" y="81.2">0.8</text>
<path transform="translate(379.82,29.70) scale(0.00806,-0.00806)" d="M478 0V1170L140 959V1180L493 1409H759V0Z" fill="#d81414" stroke="#d81414" stroke-width="37.2"/>
<path transform="translate(636.40,29.70) scale(0.00806,-0.00806)" d="M478 0V1170L140 959V1180L493 1409H759V0Z" fill="#0808c2" stroke="#0808c2" stroke-width="37.2"/>
</g>
<text class="lab r" transform="translate(356.9,151.4) rotate(-90)" text-anchor="middle">Accu. Thermal Conductivity (Norm.)</text>
<text class="lab b" transform="translate(677,153) rotate(-90)" text-anchor="middle">Thermal Conductivity (Norm.)</text>
<text class="lab" x="511.8" y="324" text-anchor="middle">MFP or Length (<tspan class="sym">&#956;</tspan>m)</text>
<rect x="397" y="32.05" width="145.0" height="45.75" fill="#fff" stroke="#000" stroke-width="2.4"/>
<circle cx="414.1" cy="44.1" r="5.2" fill="none" stroke="#e21616" stroke-width="2.3"/>
<rect x="409.9" y="61.1" width="8.6" height="8.6" fill="none" stroke="#0808c2" stroke-width="2.2" stroke-linejoin="round"/>
<text class="lg2" x="429.3" y="49.6">Reconstructed</text>
<text class="lg2" x="429.3" y="71">Experiment</text>
</svg>
</body></html>
